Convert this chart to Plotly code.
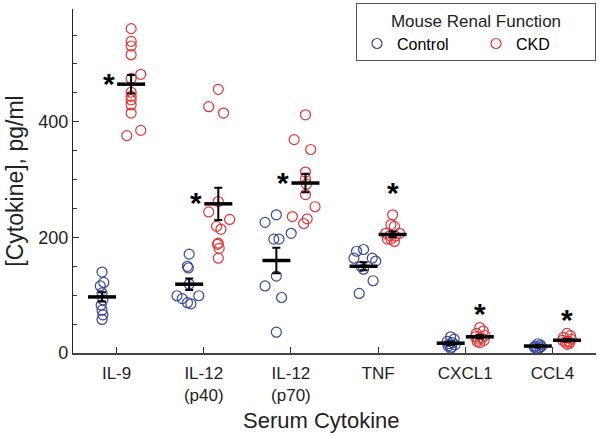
import plotly.graph_objects as go

# categories and tick labels
CATEGORIES = ["IL-9", "IL-12<br>(p40)", "IL-12<br>(p70)", "TNF", "CXCL1", "CCL4"]

# individual values (pg/ml)
CONTROL_VALUES = [
    [140, 122, 116, 104, 92, 83, 74, 66, 58],
    [171, 150, 147, 119, 99, 99, 94, 87, 85],
    [239, 226, 207, 197, 197, 133, 116, 96, 36],
    [179, 176, 164, 164, 159, 150, 145, 125, 103],
    [28, 24, 20, 18, 16, 14, 12, 10, 8],
    [16, 14, 12, 11, 10, 9, 8, 7],
]
CKD_VALUES = [
    [561, 539, 531, 516, 482, 475, 451, 444, 438, 429, 415, 385, 376],
    [456, 426, 415, 262, 244, 231, 219, 214, 190, 188, 181, 164],
    [412, 369, 352, 313, 301, 292, 274, 253, 236, 232, 224],
    [239, 222, 219, 207, 207, 203, 202, 197, 193, 197],
    [44, 38, 34, 30, 28, 26, 24, 22, 20, 18],
    [34, 30, 27, 24, 22, 20, 19, 17, 15],
]
# horizontal scatter of the points inside each group (category units)
CONTROL_JITTER = [
    [0, 0.02, -0.02, 0, 0.01, -0.01, 0, 0.01, 0],
    [0, -0.02, -0.01, 0, -0.14, 0.11, -0.08, -0.02, 0.02],
    [0, -0.13, 0.17, -0.03, 0.03, 0, -0.13, 0.06, 0],
    [0, -0.08, -0.11, 0.10, 0.14, -0.03, 0, 0.11, -0.05],
    [0, 0.04, -0.04, 0.02, -0.02, 0.05, -0.03, 0.01, 0],
    [0, 0.03, -0.03, 0.04, -0.04, 0.02, -0.02, 0],
]
CKD_JITTER = [
    [0, 0, 0, 0, 0.11, 0, 0, 0, 0, 0, 0, 0.11, -0.05],
    [0, -0.11, 0.06, 0, -0.11, 0.13, -0.02, 0.03, 0, -0.01, 0.01, 0],
    [0, -0.13, 0.06, 0, 0, 0.01, 0, 0.11, -0.15, 0.02, -0.02],
    [0, -0.02, 0.02, -0.08, 0.08, -0.03, 0.03, -0.02, 0.02, -0.06],
    [0, 0.04, -0.04, 0.06, -0.05, 0.02, -0.02, 0.05, -0.03, 0],
    [0, 0.04, -0.04, 0.05, -0.05, 0.02, -0.02, 0.03, 0],
]

# group means and SEM
CONTROL_MEAN = [97, 119, 160, 150, 17, 12]
CONTROL_SEM = [8, 10, 22, 7, 3, 2]
CKD_MEAN = [465, 258, 294, 205, 28, 22]
CKD_SEM = [16, 28, 16, 5, 3, 2]

# asterisk beside (left of the CKD mean) or on top of the CKD points
STAR_SIDE = ["left", "left", "left", "top", "top", "top"]

BLUE = "#36479f"
RED = "#e03434"
OFFSET = 0.167
FONT = "Liberation Sans, Arial, sans-serif"

pos = list(range(1, len(CATEGORIES) + 1))

fig = go.Figure()


def points(values, jitter, shift, name, color):
    xs, ys = [], []
    for p, vals, jit in zip(pos, values, jitter):
        for v, j in zip(vals, jit):
            xs.append(p + shift + j)
            ys.append(v)
    fig.add_trace(go.Scatter(
        x=xs, y=ys, mode="markers", name=name, cliponaxis=False,
        marker=dict(symbol="circle-open", size=10, color=color,
                    line=dict(width=1.2, color=color)),
    ))


points(CONTROL_VALUES, CONTROL_JITTER, -OFFSET, "Control", BLUE)
points(CKD_VALUES, CKD_JITTER, OFFSET, "CKD", RED)

# mean +/- SEM
for shift, mean, sem in [(-OFFSET, CONTROL_MEAN, CONTROL_SEM), (OFFSET, CKD_MEAN, CKD_SEM)]:
    fig.add_trace(go.Scatter(
        x=[p + shift for p in pos], y=mean, mode="markers", showlegend=False,
        cliponaxis=False,
        marker=dict(symbol="line-ew", size=20, color="black",
                    line=dict(width=3.5, color="black")),
        error_y=dict(type="data", array=sem, color="black", thickness=2, width=4),
    ))

for p, m, vals, side in zip(pos, CKD_MEAN, CKD_VALUES, STAR_SIDE):
    if side == "left":
        fig.add_annotation(x=p + OFFSET, y=m, text="<b>*</b>", showarrow=False,
                           xshift=-22, yshift=1, font=dict(size=30, color="black"))
    else:
        # TNF star sits a bit higher above its points than the two small ones
        lift = 22 if max(vals) > 100 else 14
        fig.add_annotation(x=p + OFFSET, y=max(vals), text="<b>*</b>", showarrow=False,
                           yshift=lift, font=dict(size=30, color="black"))

# x-axis title placed as a paper annotation so it can sit close to the labels
fig.add_annotation(x=0.476, y=-0.197, xref="paper", yref="paper", text="Serum Cytokine",
                   showarrow=False, yanchor="middle",
                   font=dict(size=22, color="#222"))

fig.update_layout(
    width=600, height=438,
    margin=dict(l=73, r=4, t=5, b=85),
    plot_bgcolor="white", paper_bgcolor="white",
    font=dict(family=FONT, color="black", size=18),
    legend=dict(
        title=dict(text="Mouse Renal Function", side="top center",
                   font=dict(size=17, color="#222")),
        orientation="h", x=1.0, xanchor="right", y=1.016, yanchor="top",
        bordercolor="#555", borderwidth=1, bgcolor="white",
        font=dict(size=16), entrywidth=74, itemsizing="trace",
    ),
    xaxis=dict(
        range=[0.5, 6.5], tickvals=pos, ticktext=CATEGORIES, automargin=False,
        ticks="inside", ticklen=6, tickcolor="#333", showgrid=False, zeroline=False,
        showline=True, linecolor="#444", linewidth=1.5, ticklabelstandoff=4,
        tickfont=dict(size=17, color="#222"),
    ),
    yaxis=dict(
        range=[0, 595], tickvals=[0, 200, 400], automargin=False,
        ticks="inside", ticklen=6, tickcolor="#333", showgrid=False, zeroline=False,
        showline=True, linecolor="#222", linewidth=1.2,
        minor=dict(dtick=50, tick0=0, ticks="inside", ticklen=4, tickcolor="#333"),
        tickfont=dict(size=18, color="#222"),
        title=dict(text="[Cytokine], pg/ml", font=dict(size=23, color="#222"), standoff=8),
    ),
)

# drop the browser's default 8px body margin so the figure fills the window exactly
fig.write_html("out.html", config={"displayModeBar": False},
               post_script="document.body.style.margin='0';")
